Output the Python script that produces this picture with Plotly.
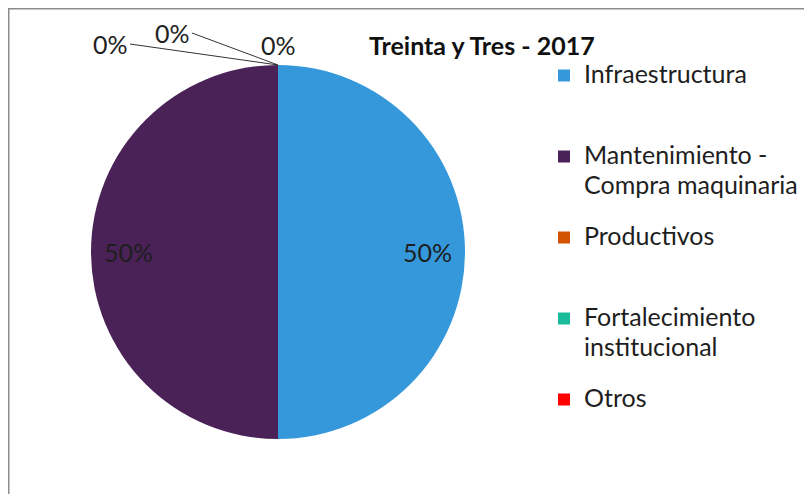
import plotly.graph_objects as go

categories = ["Infraestructura", "Mantenimiento - Compra maquinaria", "Productivos",
              "Fortalecimiento institucional", "Otros"]
legend_labels = ["Infraestructura", "Mantenimiento -<br>Compra maquinaria", "Productivos",
                 "Fortalecimiento<br>institucional", "Otros"]
values = [50, 50, 0, 0, 0]
colors = ["#3498DB", "#4A2257", "#D35400", "#1ABC9C", "#FF0000"]
title = "Treinta y Tres - 2017"

W, H = 812, 494
FONT = "Lato"
BIG = 25
TXT = "#1E1E1E"

# legend entries: visible text at BIG px, padded to equal 3-line slots;
# continuation lines are nudged down slightly for more line spacing
padded = []
for lab in legend_labels:
    lines = lab.split("<br>")
    out = ["<span style='font-size:%dpx'>%s</span>" % (BIG, lines[0])]
    for l in lines[1:]:
        out.append("<span style='font-size:%dpx;baseline-shift:-4px'>%s</span>" % (BIG, l))
    out += ["&nbsp;"] * (3 - len(out))
    padded.append("<br>".join(out))

total = sum(values)

# pie geometry (page is offset 8px by the browser body margin)
cx, cy, r = 270, 244, 187
dom = dict(x=[(cx - r) / W, (cx + r) / W], y=[1 - (cy + r) / H, 1 - (cy - r) / H])

fig = go.Figure()
fig.add_trace(go.Pie(
    labels=padded,
    values=values,
    sort=False,
    direction="clockwise",
    rotation=0,
    marker=dict(colors=colors, line=dict(width=0)),
    textinfo="none",
    domain=dom,
    hoverinfo="skip",
))

# transparent ring carrying the non-zero percentage labels at ~0.8 r
nz = [i for i, v in enumerate(values) if v > 0]
fig.add_trace(go.Pie(
    labels=[categories[i] for i in nz],
    values=[values[i] for i in nz],
    sort=False,
    direction="clockwise",
    rotation=0,
    hole=0.6,
    marker=dict(colors=["rgba(0,0,0,0)"] * len(nz), line=dict(width=0)),
    texttemplate="%{percent:.0%}",
    textposition="inside",
    insidetextorientation="horizontal",
    textfont=dict(family=FONT, size=BIG, color=TXT),
    domain=dom,
    showlegend=False,
    hoverinfo="skip",
))

# zero-value labels with leader lines to the top of the pie
top_x = cx / W
top_y = 1 - (cy - r) / H
zero_offsets = [(-148, -21), (-86, -32), (0, 0)]
zi = 0
for v in values:
    if v == 0:
        ax, ay = zero_offsets[zi]
        zi += 1
        fig.add_annotation(
            x=top_x, y=top_y, xref="paper", yref="paper",
            text="%d%%" % round(100 * v / total),
            showarrow=(ax != 0), arrowhead=0, arrowwidth=1, arrowcolor="#333333",
            ax=ax, ay=ay, standoff=0,
            font=dict(family=FONT, size=BIG, color=TXT),
            xanchor="center" if ax == 0 else "right",
            yanchor="bottom" if ax == 0 else "middle",
            yshift=3 if ax == 0 else 0,
        )

fig.add_annotation(
    x=474 / W, y=1 - 37 / H, xref="paper", yref="paper", showarrow=False,
    text="<b>%s</b>" % title,
    font=dict(family=FONT, size=BIG, color="#111111"),
    xanchor="center", yanchor="middle",
)

# chart-area border (top and left visible)
fig.add_shape(type="line", xref="paper", yref="paper", x0=0, x1=1, y0=1 - 0.5 / H, y1=1 - 0.5 / H,
              line=dict(color="#8C8C8C", width=2))
fig.add_shape(type="line", xref="paper", yref="paper", x0=0.5 / W, x1=0.5 / W, y0=0, y1=1,
              line=dict(color="#8C8C8C", width=2))

fig.update_layout(
    width=W, height=H,
    margin=dict(l=0, r=0, t=0, b=0),
    paper_bgcolor="white", plot_bgcolor="white",
    showlegend=True,
    legend=dict(
        x=536 / W, y=1 - 48 / H, xanchor="left", yanchor="top",
        font=dict(family=FONT, size=20, color=TXT),
        valign="top", bgcolor="rgba(0,0,0,0)", traceorder="normal",
    ),
)

fig.write_html("out.html")
